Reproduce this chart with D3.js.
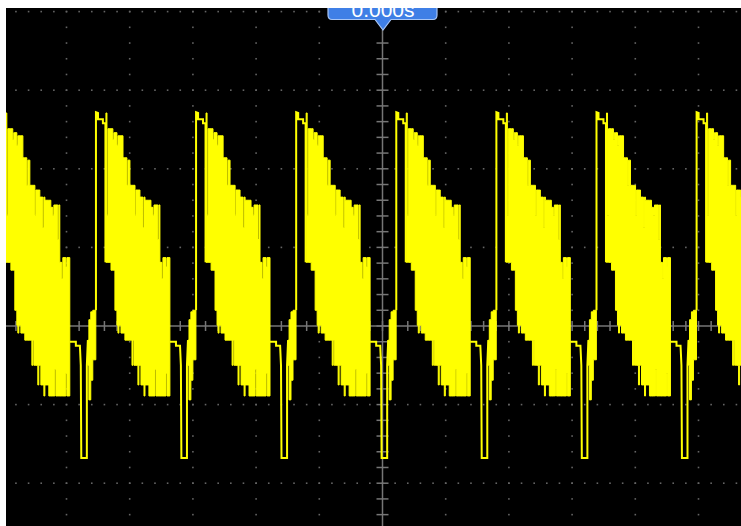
<!DOCTYPE html>
<html>
<head>
<meta charset="utf-8">
<script src="https://cdn.jsdelivr.net/npm/d3@7"></script>
<style>
html,body{margin:0;padding:0;background:#fff;}
svg{display:block;}
</style>
</head>
<body>
<svg id="scope" width="741" height="526"></svg>
<script>
// rising edge times (us), 5 us/div, trigger at 0
const edgeTimes = [-30.59, -22.67, -14.75, -6.83, 1.09, 9.01, 16.93, 24.85];

// fast ringing burst after each edge: offset (us), upper and lower envelope (V)
const burstOffset = [0.79, 0.87, 0.95, 1.19, 1.34, 1.42, 1.50, 1.66, 1.74, 1.82, 1.98, 2.14, 2.29, 2.45, 2.53, 2.69, 2.85, 2.93, 3.01, 3.09, 3.16, 3.32, 3.40, 3.48, 3.56, 3.72, 3.80, 3.88, 4.19, 4.35, 4.51, 4.59, 4.67, 4.75, 4.90, 4.98, 5.06, 5.22, 5.30, 5.54, 5.62, 5.85];
const burstHigh   = [2.71, 1.41, 2.51, 2.51, 2.37, 2.46, 2.46, 2.30, 2.42, 2.42, 2.42, 2.14, 2.14, 1.79, 2.11, 1.79, 1.79, 1.79, 1.79, 1.41, 1.73, 1.73, 1.73, 1.64, 1.64, 1.25, 1.64, 1.60, 1.60, 1.51, 1.41, 1.54, 1.54, 1.54, 1.10, 1.54, 0.81, 0.60, 0.87, 0.75, 0.87, 0.87];
const burstLow    = [0.81, 0.81, 0.81, 0.71, 0.71, 0.71, 0.20, 0.01, -0.09, 0.01, -0.09, -0.09, -0.18, -0.18, -0.18, -0.18, -0.50, -0.18, -0.50, -0.50, -0.50, -0.75, -0.50, -0.50, -0.75, -0.75, -0.89, -0.75, -0.89, -0.89, -0.89, -0.89, -0.55, -0.89, -0.89, -0.89, -0.89, -0.89, -0.89, -0.60, -0.89, -0.89];

// slow part before the burst: edge, flat top, fall
const headOffset = [0, 0, 0.16, 0.16, 0.55, 0.55, 0.75, 0.75];
const headVolt   = [0.20, 2.72, 2.71, 2.63, 2.63, 2.58, 2.58, 0.81];

// slow part after the burst: shelf, negative pulse
const tailOffset = [5.85, 6.33, 6.33, 6.65, 6.72, 6.76, 7.20, 7.20, 7.28];
const tailVolt   = [-0.20, -0.20, -0.25, -0.25, -0.50, -1.68, -1.68, -0.50, -0.18];

// short ringing before the next edge
const recOffset = [7.28, 7.36, 7.51, 7.67, 7.91];
const recHigh   = [-0.18, 0.08, 0.18, 0.20, 0.20];
const recLow    = [-0.50, -0.94, -0.69, -0.43, -0.43];

const W = 741, H = 526;
const cx = 382.5, cy = 326, divX = 63.2, divY = 78.6;
const x = d3.scaleLinear().domain([-30, 30]).range([cx - 6*divX, cx + 6*divX]);
const y = d3.scaleLinear().domain([-4, 4]).range([cy + 4*divY, cy - 4*divY]);

const svg = d3.select('#scope');
svg.append('rect').attr('width', W).attr('height', H).attr('fill', '#fff');
svg.append('defs').append('clipPath').attr('id', 'screen')
	.append('rect').attr('x', 6).attr('y', 8).attr('width', W-6).attr('height', H-8);
const screen = svg.append('g').attr('clip-path', 'url(#screen)');
screen.append('rect').attr('x', 6).attr('y', 8).attr('width', W-6).attr('height', H-8).attr('fill', '#000');

// dotted graticule
const grid = screen.append('g').attr('fill', '#646464');
const xDivs = d3.range(-30, 30.01, 5).filter(t => t != 0);
const yDivs = d3.range(-4, 4.01, 1).filter(v => v != 0);
xDivs.forEach(t => {
	d3.range(-4, 4.01, 0.2).forEach(v => {
		grid.append('rect').attr('x', x(t)-0.8).attr('y', y(v)-0.8).attr('width', 1.6).attr('height', 1.6);
	});
});
yDivs.forEach(v => {
	d3.range(-30, 30.01, 1).forEach(t => {
		grid.append('rect').attr('x', x(t)-0.8).attr('y', y(v)-0.8).attr('width', 1.6).attr('height', 1.6);
	});
});

// centre axes with minor ticks
const axes = screen.append('g').attr('stroke', '#767676').attr('stroke-width', 1.5);
axes.append('line').attr('x1', 6).attr('x2', W).attr('y1', y(0)).attr('y2', y(0));
axes.append('line').attr('x1', x(0)).attr('x2', x(0)).attr('y1', 30).attr('y2', H);
d3.range(-30, 30.01, 1).forEach(t => {
	axes.append('line').attr('x1', x(t)).attr('x2', x(t)).attr('y1', y(0)-5).attr('y2', y(0)+5);
});
d3.range(-4, 4.01, 0.2).filter(v => y(v) > 36).forEach(v => {
	axes.append('line').attr('x1', x(0)-6).attr('x2', x(0)+6).attr('y1', y(v)).attr('y2', y(v));
});

// trace
const yellow = '#ffff00';
const trace = screen.append('g');
const area = d3.area()
	.x(d => x(d.t)).y0(d => y(d.lo)).y1(d => y(d.hi))
	.curve(d3.curveStepAfter);
const line = d3.line().x(d => x(d.t)).y(d => y(d.v));

const bursts = [], recs = [], slow = [];
edgeTimes.forEach(t0 => {
	bursts.push(burstOffset.map((o, i) => ({t: t0+o, hi: burstHigh[i], lo: burstLow[i]})));
	recs.push(recOffset.map((o, i) => ({t: t0+o, hi: recHigh[i], lo: recLow[i]})));
	slow.push(headOffset.map((o, i) => ({t: t0+o, v: headVolt[i]})));
	slow.push(tailOffset.map((o, i) => ({t: t0+o, v: tailVolt[i]})));
});
// lead-in ringing of the period before the first edge
recs.push(recOffset.map((o, i) => ({t: edgeTimes[0] - 7.91 + o, hi: recHigh[i], lo: recLow[i]})));

trace.selectAll('path.burst')
	.data(bursts.concat(recs))
	.join('path')
		.classed('burst', true)
		.attr('d', area)
		.attr('fill', yellow)
		.attr('stroke', yellow)
		.attr('stroke-width', 1);
trace.selectAll('path.slow')
	.data(slow)
	.join('path')
		.classed('slow', true)
		.attr('d', line)
		.attr('fill', 'none')
		.attr('stroke', yellow)
		.attr('stroke-width', 2);

// trigger position marker
const tab = screen.append('g');
tab.append('path')
	.attr('d', `M328,-4 L437,-4 L437,15 Q437,19.5 433,19.5 L391,19.5 L383,30 L375,19.5 L332,19.5 Q328,19.5 328,15 Z`)
	.attr('fill', '#3f7fe6')
	.attr('stroke', '#a8c6f6')
	.attr('stroke-width', 1.2);
tab.append('text')
	.attr('x', 383).attr('y', 17)
	.attr('text-anchor', 'middle')
	.attr('fill', '#fff')
	.attr('font-family', 'Liberation Sans, Arial, sans-serif')
	.attr('font-size', 21)
	.text('0.000s');
</script>
</body>
</html>
